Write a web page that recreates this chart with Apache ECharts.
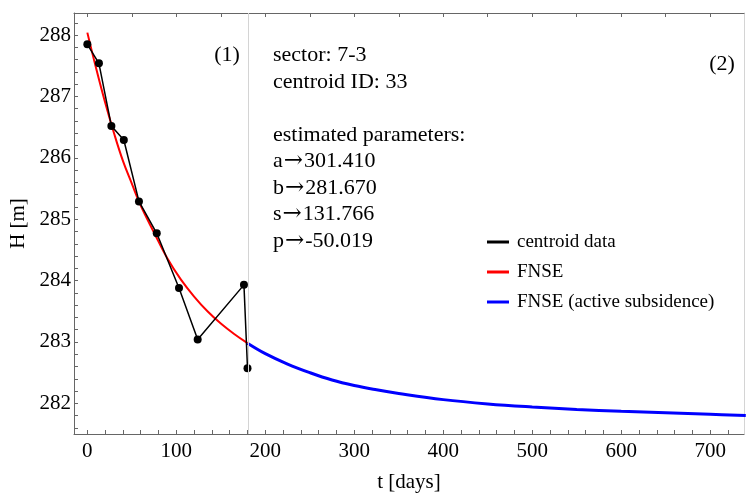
<!DOCTYPE html>
<html>
<head>
<meta charset="utf-8">
<script src="https://cdn.jsdelivr.net/npm/echarts@6/dist/echarts.min.js"></script>
<style>
html,body{margin:0;padding:0;background:#ffffff;}
#chart{width:751px;height:494px;}
</style>
</head>
<body>
<div id="chart"></div>
<script>
// centroid data (black)
const dataT=[0,13,27,41,58,78,103,124,176,180];
const dataH=[287.85,287.54,286.52,286.29,285.29,284.77,283.88,283.04,283.93,282.57];

// FNSE fit (red)
const fitT=[0,10,20,30,40,50,60,75,90,105,120,135,150,165,180];
const fitH=[288.04,287.45,286.90,286.40,285.95,285.58,285.22,284.78,284.36,284.02,283.74,283.50,283.30,283.13,282.98];

// FNSE active subsidence (blue)
const activeT=[180,200,225,250,275,300,325,350,400,450,500,550,600,650,700,740];
const activeH=[282.98,282.81,282.64,282.50,282.38,282.29,282.22,282.16,282.06,281.99,281.94,281.90,281.87,281.845,281.82,281.80];

const boundaryT=181;

const xLabels=[0,100,200,300,400,500,600,700];
const xTicks=[0,20,40,60,80,100,120,140,160,180,200,220,240,260,280,300,320,340,360,380,400,420,440,460,480,500,520,540,560,580,600,620,640,660,680,700,720];
const xTopTicks=[0,50,100,150,200,250,300,350,400,450,500,550,600,650,700];
const yLabels=[282,283,284,285,286,287,288];
const yTicks=[281.6,281.8,282,282.2,282.4,282.6,282.8,283,283.2,283.4,283.6,283.8,284,284.2,284.4,284.6,284.8,285,285.2,285.4,285.6,285.8,286,286.2,286.4,286.6,286.8,287,287.2,287.4,287.6,287.8,288,288.2];

const paramNames=["a","b","s","p"];
const paramValues=["301.410","281.670","131.766","-50.019"];

const noteText=[
    "sector: 7-3",
    "centroid ID: 33",
    "",
    "estimated parameters:"
].concat(
    paramNames.map((n,i)=>n+"{r|\u2192}"+paramValues[i])
).join("\n");

const serif="Liberation Serif";
const axisGrey="#666666";

function pairs(xs,ys){
    return xs.map((x,i)=>[x,ys[i]]);
}

const chart=echarts.init(document.getElementById("chart"),null,{renderer:"canvas"});

chart.setOption({
    backgroundColor:"#ffffff",
    animation:false,
    textStyle:{fontFamily:serif},
    grid:{left:74,right:7,top:13,bottom:60,containLabel:false,outerBoundsMode:"none"},
    xAxis:[
        {
            type:"value",
            position:"bottom",
            min:-15,
            max:738,
            name:"t [days]",
            nameLocation:"middle",
            nameGap:38,
            nameTextStyle:{fontFamily:serif,fontSize:21,color:"#000"},
            axisLine:{onZero:false,lineStyle:{color:axisGrey,width:1}},
            axisTick:{show:true,inside:true,length:4,customValues:xTicks,lineStyle:{color:axisGrey}},
            axisLabel:{customValues:xLabels,fontFamily:serif,fontSize:21,color:"#000",margin:7},
            splitLine:{show:false}
        },
        {
            type:"value",
            position:"top",
            min:-15,
            max:738,
            axisLine:{onZero:false,lineStyle:{color:axisGrey,width:1}},
            axisTick:{show:true,inside:true,length:4,customValues:xTopTicks,lineStyle:{color:axisGrey}},
            axisLabel:{show:false},
            splitLine:{show:false}
        }
    ],
    yAxis:[
        {
            type:"value",
            position:"left",
            min:281.5,
            max:288.36,
            name:"H [m]",
            nameLocation:"middle",
            nameGap:38,
            nameRotate:90,
            nameTextStyle:{fontFamily:serif,fontSize:21,color:"#000"},
            axisLine:{show:true,onZero:false,lineStyle:{color:axisGrey,width:1}},
            axisTick:{show:true,inside:true,length:4,customValues:yTicks,lineStyle:{color:axisGrey}},
            axisLabel:{customValues:yLabels,fontFamily:serif,fontSize:21,color:"#000",margin:3},
            splitLine:{show:false}
        },
        {
            type:"value",
            position:"right",
            min:281.5,
            max:288.36,
            axisLine:{show:true,onZero:false,lineStyle:{color:"#d4d4d4",width:1}},
            axisTick:{show:false},
            axisLabel:{show:false},
            splitLine:{show:false}
        }
    ],
    legend:{
        orient:"vertical",
        left:482,
        top:227,
        icon:"rect",
        itemWidth:22,
        itemHeight:3,
        itemGap:10,
        textStyle:{fontFamily:serif,fontSize:19,color:"#000",lineHeight:20,padding:[0,0,0,3]},
        data:["centroid data","FNSE","FNSE (active subsidence)"]
    },
    graphic:[
        {
            type:"text",
            left:273,
            top:42,
            style:{
                text:noteText,
                fontFamily:serif,
                fontSize:22,
                lineHeight:26.5,
                fill:"#000",
                rich:{
                    r:{fontFamily:"DejaVu Serif",fontSize:23,lineHeight:26.5,fill:"#000",padding:[0,1,0,1]}
                }
            }
        },
        {
            type:"text",
            x:227,
            y:55,
            style:{text:"(1)",fontFamily:serif,fontSize:22,fill:"#000",align:"center",verticalAlign:"middle"}
        },
        {
            type:"text",
            x:722,
            y:64,
            style:{text:"(2)",fontFamily:serif,fontSize:22,fill:"#000",align:"center",verticalAlign:"middle"}
        }
    ],
    series:[
        {
            name:"FNSE",
            type:"line",
            data:pairs(fitT,fitH),
            smooth:0.4,
            showSymbol:false,
            lineStyle:{color:"#ff0000",width:2},
            itemStyle:{color:"#ff0000"},
            z:2
        },
        {
            name:"FNSE (active subsidence)",
            type:"line",
            data:pairs(activeT,activeH),
            smooth:0.4,
            showSymbol:false,
            lineStyle:{color:"#0000ff",width:3},
            itemStyle:{color:"#0000ff"},
            z:2
        },
        {
            name:"centroid data",
            type:"line",
            data:pairs(dataT,dataH),
            symbol:"circle",
            symbolSize:8,
            lineStyle:{color:"#000000",width:1.5},
            itemStyle:{color:"#000000"},
            z:3,
            markLine:{
                silent:true,
                symbol:"none",
                label:{show:false},
                lineStyle:{color:"#d4d4d4",width:1,type:"solid"},
                data:[{xAxis:boundaryT}]
            }
        }
    ]
});
</script>
</body>
</html>
